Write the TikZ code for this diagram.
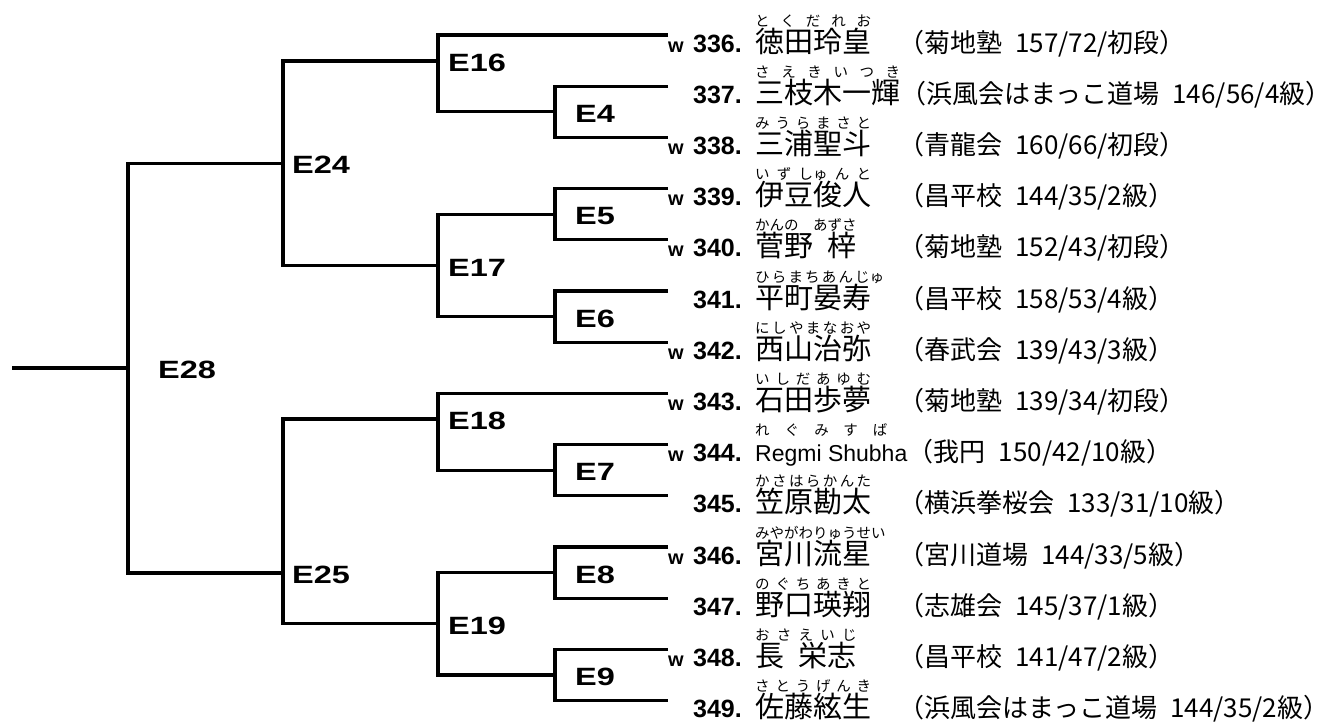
\documentclass[tikz,border=0pt]{standalone}
\usepackage{fontspec}
\usetikzlibrary{calc}
\newfontfamily\jpfont{Noto Sans CJK JP}
\newfontfamily\gothfont{Liberation Sans}
\newfontfamily\widefont[FakeStretch=1.3]{Liberation Sans}
\newcommand\latinname{\gothfont\fontsize{23}{23}\selectfont}
% name with its reading spread above it
\newcommand\rubyname[2]{%
  \setbox0\hbox{\jpfont\fontsize{29}{29}\selectfont #2}%
  \setbox1\hbox to \wd0{\jpfont\fontsize{14.5}{14.5}\selectfont #1}%
  \dp1=0pt \ht0=0pt
  \vbox{\offinterlineskip\box1\vskip26pt\box0}}

\tikzset{
  bracket/.style={line width=3.2pt},
  matchlabel/.style={anchor=west, inner sep=0pt, font=\widefont\bfseries\fontsize{25}{25}\selectfont},
  winmark/.style={anchor=base west, inner sep=0pt, font=\gothfont\bfseries\fontsize{20}{20}\selectfont},
  entryno/.style={anchor=base east, inner sep=0pt, font=\gothfont\bfseries\fontsize{25}{25}\selectfont},
  entryname/.style={anchor=base west, inner sep=0pt},
  club/.style={anchor=base west, inner sep=0pt, font=\jpfont\fontsize{26}{26}\selectfont}
}

\begin{document}
\begin{tikzpicture}[x=1pt, y=-1pt]
    \def\rowgap{51.2}
    \def\firstrow{35}
    \def\lineend{668}
    \useasboundingbox (0,0) rectangle (1341,721);
    % entries: row / winner / number / reading / name / club
    \foreach \I/\W/\N/\R/\P/\A in {
        0/1/336/{と く だ れ お}/徳田玲皇/{（菊地塾\enspace 157/72/初段）},
        1/0/337/{さ え き い つ き}/三枝木一輝/{（浜風会はまっこ道場\enspace 146/56/4級）},
        2/1/338/{み う ら ま さ と}/三浦聖斗/{（青龍会\enspace 160/66/初段）},
        3/1/339/{い ず しゅ ん と}/伊豆俊人/{（昌平校\enspace 144/35/2級）},
        4/1/340/{かんの あずさ}/{菅野\enspace 梓}/{（菊地塾\enspace 152/43/初段）},
        5/0/341/{ひ ら ま ち あ ん じゅ}/平町晏寿/{（昌平校\enspace 158/53/4級）},
        6/1/342/{に し や ま な お や}/西山治弥/{（春武会\enspace 139/43/3級）},
        7/1/343/{い し だ あ ゆ む}/石田歩夢/{（菊地塾\enspace 139/34/初段）},
        8/1/344/{れ ぐ み\quad す ば\hspace{20pt}}/{\latinname Regmi Shubha}/{（我円\enspace 150/42/10級）},
        9/0/345/{か さ は ら か ん た}/笠原勘太/{（横浜拳桜会\enspace 133/31/10級）},
        10/1/346/{みやがわりゅうせい}/宮川流星/{（宮川道場\enspace 144/33/5級）},
        11/0/347/{の ぐ ち あ き と}/野口瑛翔/{（志雄会\enspace 145/37/1級）},
        12/1/348/{お さ え い じ}/{長\enspace 栄志}/{（昌平校\enspace 141/47/2級）},
        13/0/349/{さ と う げ ん き}/佐藤絃生/{（浜風会はまっこ道場\enspace 144/35/2級）}}
        {
        \pgfmathsetmacro\Y{\firstrow + \rowgap * \I}
        \pgfmathsetmacro\B{\Y + 17}
        \coordinate (r\I) at (\lineend, \Y);
        \ifnum\W=1 \node[winmark] (w\I) at (668, \B) {w}; \fi
        \node[entryno] (no\I) at (742, \B) {\N.};
        \node[entryname] (nm\I) at (755, \B) {\rubyname{\R}{\P}};
        \path let \p1 = (nm\I.east), \n1 = {max(\x1, 898pt)} in node[club] (cl\I) at (\n1, \B) {\A};
        }
    % match junctions
    \coordinate (root) at (12, 368);
    \coordinate (E28) at (128, 368);
    \coordinate (E24) at (283, 163.2);
    \coordinate (E25) at (283, 573);
    \coordinate (E16) at (438, 61);
    \coordinate (E17) at (438, 265.4);
    \coordinate (E18) at (438, 419);
    \coordinate (E19) at (438, 623.8);
    \coordinate (E4) at (555, 111.8);
    \coordinate (E5) at (555, 214.2);
    \coordinate (E6) at (555, 316.6);
    \coordinate (E7) at (555, 470.2);
    \coordinate (E8) at (555, 572.6);
    \coordinate (E9) at (555, 675);
    \foreach \M/\U/\L in {E4/r1/r2, E5/r3/r4, E6/r5/r6, E7/r8/r9, E8/r10/r11, E9/r12/r13,
                          E16/r0/E4, E17/E5/E6, E18/r7/E7, E19/E8/E9,
                          E24/E16/E17, E25/E18/E19, E28/E24/E25}
        \draw[bracket] (\U) -| (\M) |- (\L);
    \draw[bracket] (root) -- (E28);
    % match labels
    \foreach \M/\D in {E4/20, E5/20, E6/20, E7/20, E8/20, E9/20,
                       E16/10, E17/10, E18/10, E19/10, E24/9, E25/9, E28/30}
        \node[matchlabel] (lab\M) at ([xshift=\D pt, yshift=-2pt]\M) {\M};
\end{tikzpicture}
\end{document}
